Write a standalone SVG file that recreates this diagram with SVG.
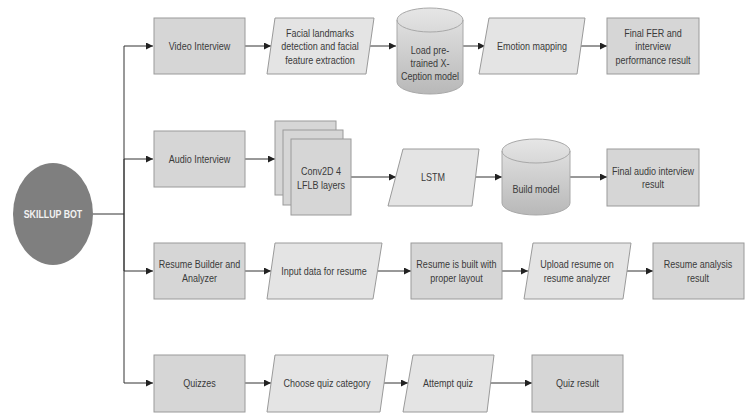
<svg xmlns="http://www.w3.org/2000/svg" width="751" height="414" viewBox="0 0 751 414">
<style>
.box{fill:#d6d6d6;stroke:#9a9a9a;stroke-width:1}
.para{fill:#e4e4e4;stroke:#9a9a9a;stroke-width:1}
.cyl{fill:url(#cg);stroke:#a8a8a8;stroke-width:1}
.cylt{fill:none;stroke:#a8a8a8;stroke-width:1}
.t{font-family:"Liberation Sans",Arial,sans-serif;font-size:11px;fill:#3a3a3a;text-anchor:middle;dominant-baseline:central}
.tb{font-family:"Liberation Sans",Arial,sans-serif;font-size:11px;font-weight:bold;fill:#f2f2f2;text-anchor:middle;dominant-baseline:central}
.e{fill:none;stroke:#333;stroke-width:1;marker-end:url(#ah)}
.l{fill:none;stroke:#333;stroke-width:1}
</style>
<defs>
<linearGradient id="cg" x1="0" y1="0" x2="0" y2="1">
<stop offset="0" stop-color="#e6e6e6"/>
<stop offset="1" stop-color="#b8b8b8"/>
</linearGradient>
<marker id="ah" viewBox="0 0 8 8" refX="8" refY="4" markerWidth="7" markerHeight="7" markerUnits="userSpaceOnUse" orient="auto">
<path d="M0,0 L8,4 L0,8 Z" fill="#222"/>
</marker>
</defs>
<rect width="751" height="414" fill="#ffffff"/>
<g id="connectors">
<path class="l" d="M93,214 H124"/>
<path class="e" d="M124,214 V46 H153"/>
<path class="e" d="M124,214 V159 H153"/>
<path class="e" d="M124,214 V271 H153"/>
<path class="e" d="M124,214 V383 H153"/>
<path class="e" d="M245,46 H271"/>
<path class="e" d="M370,46 H396"/>
<path class="e" d="M463,46 H485"/>
<path class="e" d="M581,46 H607"/>
<path class="e" d="M245,159 H275"/>
<path class="e" d="M351,177 H396"/>
<path class="e" d="M476,177 H502"/>
<path class="e" d="M570,177 H607"/>
<path class="e" d="M245,271 H271"/>
<path class="e" d="M378,271 H411"/>
<path class="e" d="M502,271 H528"/>
<path class="e" d="M627,271 H653"/>
<path class="e" d="M245,383 H271"/>
<path class="e" d="M384,383 H408"/>
<path class="e" d="M491,383 H532"/>
</g>
<g id="skillup">
<ellipse cx="53" cy="214" rx="40" ry="51" fill="#7f7f7f"/>
<text class="tb" x="53" y="214" transform="matrix(.8 0 0 1 10.6 0)">SKILLUP BOT</text>
</g>
<g id="video">
<rect class="box" x="154" y="18" width="91" height="56"/>
<text class="t" x="199.5" y="46" transform="matrix(.82 0 0 1 35.9 0)">Video Interview</text>
</g>
<g id="facial">
<polygon class="para" points="275,18 374,18 366,74 267,74"/>
<g transform="matrix(.82 0 0 1 57.6 0)">
<text class="t" x="320" y="33">Facial landmarks</text>
<text class="t" x="320" y="46.5">detection and facial</text>
<text class="t" x="320" y="60">feature extraction</text>
</g>
</g>
<g id="xception">
<path class="cyl" d="M397,20 A33,12 0 0 1 463,20 V82 A33,12 0 0 1 397,82 Z"/>
<path class="cylt" d="M397,20 A33,12 0 0 0 463,20"/>
<g transform="matrix(.82 0 0 1 77.4 0)">
<text class="t" x="430" y="50">Load pre-</text>
<text class="t" x="430" y="63">trained X-</text>
<text class="t" x="430" y="76.5">Ception model</text>
</g>
</g>
<g id="emotion">
<polygon class="para" points="489,18 585,18 577,74 479,74"/>
<text class="t" x="532" y="46" transform="matrix(.82 0 0 1 95.8 0)">Emotion mapping</text>
</g>
<g id="fer">
<rect class="box" x="607" y="18" width="92" height="56"/>
<g transform="matrix(.82 0 0 1 117.5 0)">
<text class="t" x="653" y="33">Final FER and</text>
<text class="t" x="653" y="46.5">interview</text>
<text class="t" x="653" y="60">performance result</text>
</g>
</g>
<g id="audio">
<rect class="box" x="154" y="131" width="91" height="56"/>
<text class="t" x="199.5" y="159" transform="matrix(.82 0 0 1 35.9 0)">Audio Interview</text>
</g>
<g id="conv2d">
<rect class="box" x="275" y="121" width="61" height="74"/>
<rect class="box" x="283" y="130" width="60" height="75"/>
<rect class="box" x="291" y="139" width="60" height="76"/>
<g transform="matrix(.82 0 0 1 57.8 0)">
<text class="t" x="321" y="171">Conv2D 4</text>
<text class="t" x="321" y="185">LFLB layers</text>
</g>
</g>
<g id="lstm">
<polygon class="para" points="403,149 479,149 472,206 388,206"/>
<text class="t" x="433" y="177" transform="matrix(.82 0 0 1 77.9 0)">LSTM</text>
</g>
<g id="buildmodel">
<path class="cyl" d="M502,151 A34,12 0 0 1 570,151 V203 A34,12 0 0 1 502,203 Z"/>
<path class="cylt" d="M502,151 A34,12 0 0 0 570,151"/>
<text class="t" x="536" y="189" transform="matrix(.82 0 0 1 96.5 0)">Build model</text>
</g>
<g id="audioresult">
<rect class="box" x="607" y="149" width="92" height="57"/>
<g transform="matrix(.82 0 0 1 117.5 0)">
<text class="t" x="653" y="171">Final audio interview</text>
<text class="t" x="653" y="184">result</text>
</g>
</g>
<g id="resume">
<rect class="box" x="154" y="243" width="91" height="56"/>
<g transform="matrix(.82 0 0 1 35.9 0)">
<text class="t" x="199.5" y="264">Resume Builder and</text>
<text class="t" x="199.5" y="278.5">Analyzer</text>
</g>
</g>
<g id="inputdata">
<polygon class="para" points="275,243 382,243 373,299 267,299"/>
<text class="t" x="324" y="271" transform="matrix(.82 0 0 1 58.3 0)">Input data for resume</text>
</g>
<g id="resumebuilt">
<rect class="box" x="411" y="243" width="91" height="56"/>
<g transform="matrix(.82 0 0 1 82.1 0)">
<text class="t" x="456.5" y="264">Resume is built with</text>
<text class="t" x="456.5" y="278">proper layout</text>
</g>
</g>
<g id="upload">
<polygon class="para" points="533,243 631,243 623,299 524,299"/>
<g transform="matrix(.82 0 0 1 103.9 0)">
<text class="t" x="577" y="264">Upload resume on</text>
<text class="t" x="577" y="278">resume analyzer</text>
</g>
</g>
<g id="analysis">
<rect class="box" x="653" y="243" width="91" height="56"/>
<g transform="matrix(.82 0 0 1 125.6 0)">
<text class="t" x="698" y="264">Resume analysis</text>
<text class="t" x="698" y="278">result</text>
</g>
</g>
<g id="quizzes">
<rect class="box" x="154" y="355" width="91" height="57"/>
<text class="t" x="199.5" y="383" transform="matrix(.82 0 0 1 35.9 0)">Quizzes</text>
</g>
<g id="choose">
<polygon class="para" points="275,355 388,355 380,412 267,412"/>
<text class="t" x="327" y="383" transform="matrix(.82 0 0 1 58.9 0)">Choose quiz category</text>
</g>
<g id="attempt">
<polygon class="para" points="413,355 494,355 487,412 403,412"/>
<text class="t" x="448" y="383" transform="matrix(.82 0 0 1 80.6 0)">Attempt quiz</text>
</g>
<g id="quizresult">
<rect class="box" x="532" y="355" width="91" height="57"/>
<text class="t" x="577.5" y="383" transform="matrix(.82 0 0 1 104 0)">Quiz result</text>
</g>
</svg>
